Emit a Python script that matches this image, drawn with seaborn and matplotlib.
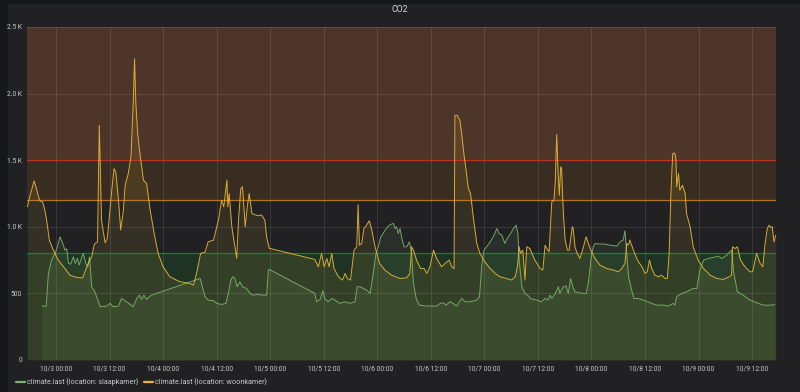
import matplotlib
matplotlib.use("Agg")
import matplotlib.pyplot as plt
from matplotlib.lines import Line2D
from matplotlib.patches import Rectangle
from matplotlib.ticker import FuncFormatter, FixedLocator
import matplotlib.dates as mdates
import seaborn as sns
import pandas as pd

# hours since 10/3 00:00 and CO2 ppm
woon_hours = [-6.4, -6.1, -4.9, -4.5, -3.7, -3.0, -2.5, -2.1, -1.5, -0.6, 0.5, 2.0, 3.1, 4.6, 6.0,
              6.9, 8.0, 8.6, 9.3, 9.7, 10.2, 11.0, 11.5, 12.5, 13.0, 13.4, 14.0, 14.5, 15.1, 15.5,
              16.2, 16.8, 17.3, 17.6, 17.9, 18.3, 18.8, 19.6, 20.3, 21.1, 22.0, 22.9, 24.0, 25.5,
              27.8, 30.0, 30.8, 31.5, 32.4, 33.4, 34.1, 35.3, 36.4, 37.1, 37.6, 38.3, 38.5, 38.8,
              39.4, 40.1, 40.5, 40.9, 41.4, 41.8, 42.4, 42.9, 43.3, 43.9, 45.0, 46.1, 46.8, 47.2,
              47.8, 48.0, 58.0, 58.8, 59.5, 60.1, 60.7, 61.2, 61.8, 62.3, 63.3, 64.2, 64.8, 65.3,
              66.0, 66.8, 67.4, 67.7, 68.0, 68.5, 69.0, 69.6, 70.2, 70.7, 71.5, 72.5, 73.7, 75.2,
              77.1, 78.6, 79.3, 79.7, 80.1, 80.8, 81.7, 82.5, 83.1, 83.8, 84.6, 85.3, 86.4, 87.2,
              88.1, 88.7, 89.2, 89.4, 89.9, 90.5, 90.9, 91.4, 92.0, 92.4, 92.9, 93.5, 94.3, 95.0,
              96.1, 97.3, 98.4, 99.5, 101.0, 102.1, 102.9, 103.4, 103.8, 104.1, 104.6, 105.1,
              105.5, 106.2, 107.3, 108.5, 109.1, 109.6, 110.0, 110.5, 111.1, 111.6, 111.9, 112.2,
              112.5, 112.8, 113.1, 113.3, 113.7, 114.1, 114.6, 115.0, 115.3, 115.7, 115.9, 116.3,
              116.8, 117.4, 118.0, 118.8, 119.3, 120.0, 120.8, 121.9, 123.4, 124.9, 126.0, 126.8,
              127.5, 127.9, 128.3, 128.6, 129.4, 130.3, 131.3, 132.0, 132.5, 133.0, 133.5, 134.2,
              135.0, 135.7, 136.5, 137.0, 137.4, 137.8, 138.2, 138.6, 138.9, 139.1, 139.5, 139.8,
              140.4, 141.0, 141.3, 142.1, 142.8, 143.9, 145.1, 146.6, 148.1, 149.5, 150.9, 151.4,
              151.6, 152.2, 152.7, 153.4, 154.4, 155.5, 156.1, 157.0, 157.8, 158.4, 158.9, 159.4,
              159.8, 160.2, 160.5, 160.9, 161.3]
woon_co2 = [1150, 1200, 1345, 1300, 1200, 1185, 1125, 1050, 900, 825, 750, 687, 637, 620, 617,
            700, 775, 870, 887, 1762, 1050, 880, 912, 1275, 1437, 1410, 1200, 975, 1125, 1312,
            1400, 1525, 1925, 2262, 1925, 1700, 1550, 1350, 1325, 1125, 950, 800, 700, 625,
            587, 575, 562, 650, 800, 810, 887, 900, 1050, 1200, 1150, 1350, 1150, 1250,
            1000, 850, 762, 1050, 1287, 1300, 1000, 1162, 1250, 1100, 1085, 1087, 1050, 925,
            837, 837, 755, 700, 800, 700, 762, 700, 800, 687, 625, 600, 650, 612,
            600, 825, 850, 1167, 862, 875, 987, 1012, 1045, 987, 850, 725, 675, 637,
            612, 617, 650, 850, 825, 750, 687, 687, 650, 700, 825, 762, 700, 725,
            750, 700, 687, 1837, 1837, 1800, 1700, 1550, 1400, 1287, 1250, 1075, 875, 800,
            737, 687, 650, 625, 612, 600, 625, 700, 850, 800, 825, 600,
            850, 837, 750, 687, 675, 862, 837, 812, 1187, 1200, 1350, 1692,
            1425, 1237, 1450, 1440, 1100, 900, 825, 825, 900, 1000, 987, 850,
            800, 762, 825, 925, 875, 812, 762, 712, 687, 675, 662, 687,
            725, 875, 862, 900, 825, 750, 700, 650, 662, 750, 687, 637,
            625, 637, 612, 612, 800, 1250, 1550, 1555, 1525, 1300, 1400, 1275,
            1312, 1250, 1100, 1000, 850, 750, 687, 637, 612, 605, 625, 637,
            850, 837, 850, 750, 700, 662, 662, 800, 725, 700, 875, 987,
            1012, 995, 1000, 887, 937]

slaap_hours = [-3.1, -2.2, -1.7, -1.0, -0.2, 0.3, 0.9, 1.5, 2.0, 2.4, 2.8, 3.3, 3.9, 4.3, 4.8,
               5.2, 5.8, 6.1, 6.7, 7.1, 7.5, 8.0, 8.7, 9.9, 11.4, 12.1, 12.8, 14.0, 14.7, 15.8,
               17.3, 18.1, 18.7, 19.2, 19.7, 20.3, 20.9, 21.4, 32.3, 32.7, 33.4, 34.1, 35.3, 36.0,
               37.1, 38.1, 38.6, 39.2, 39.6, 40.1, 40.6, 41.2, 41.8, 42.7, 43.5, 44.2, 45.0, 46.5,
               47.2, 47.6, 47.8, 58.0, 58.4, 59.2, 59.8, 60.3, 61.0, 61.8, 62.5, 63.6, 64.8, 65.9,
               67.0, 67.5, 68.1, 68.9, 69.6, 70.4, 71.1, 71.7, 72.2, 72.8, 73.3, 74.0, 74.7, 75.2,
               75.6, 76.0, 76.3, 76.7, 77.1, 77.5, 78.0, 78.6, 79.2, 79.7, 80.1, 80.7, 81.4, 83.1,
               85.3, 86.1, 86.8, 87.4, 88.3, 89.0, 89.8, 90.9, 91.7, 92.8, 94.3, 94.9, 95.4, 95.9,
               96.5, 97.3, 98.0, 98.8, 99.3, 99.9, 100.6, 101.1, 101.9, 102.5, 103.1, 103.5, 103.8,
               104.4, 105.1, 106.1, 106.2, 107.7, 108.8, 109.6, 110.3, 110.7, 111.1, 111.8, 112.6,
               112.9, 113.7, 114.3, 114.8, 115.3, 115.8, 116.3, 117.3, 118.2, 118.8, 119.3, 119.7,
               120.0, 120.4, 120.8, 121.9, 123.0, 124.1, 125.7, 126.4, 127.1, 127.5, 127.9, 128.3,
               129.0, 129.5, 130.5, 131.6, 133.1, 134.6, 136.1, 137.2, 138.3, 138.7, 139.1, 140.2,
               141.3, 142.8, 143.6, 144.3, 145.1, 146.2, 147.3, 148.4, 149.2, 150.3, 151.0, 151.4,
               151.9, 152.7, 154.0, 155.5, 157.0, 158.5, 160.0, 161.1]
slaap_co2 = [405, 405, 650, 750, 800, 850, 925, 875, 825, 835, 725, 720, 775, 725, 765,
             712, 775, 800, 725, 700, 775, 550, 512, 400, 405, 425, 400, 405, 462, 437,
             400, 462, 487, 455, 487, 455, 475, 487, 612, 562, 475, 450, 445, 425,
             417, 425, 500, 600, 625, 612, 550, 587, 550, 537, 500, 487, 492, 487,
             487, 675, 680, 500, 437, 455, 520, 457, 437, 462, 450, 425, 437, 425,
             437, 550, 550, 537, 525, 500, 650, 800, 850, 925, 950, 987, 1012, 1020,
             1025, 987, 1000, 950, 987, 912, 850, 850, 887, 800, 575, 462, 412, 405,
             405, 425, 430, 412, 437, 425, 405, 462, 437, 437, 450, 475, 700, 825,
             850, 887, 925, 987, 950, 937, 875, 912, 950, 987, 1012, 950, 750,
             550, 500, 475, 462, 450, 437, 462, 450, 487, 462, 495, 550,
             500, 550, 555, 500, 612, 550, 512, 505, 500, 500, 575, 700,
             787, 850, 875, 870, 870, 862, 855, 887, 900, 970, 800, 625,
             525, 462, 462, 450, 430, 412, 412, 405, 425, 412, 475, 500,
             512, 537, 537, 675, 750, 762, 770, 780, 762, 787, 812, 825,
             650, 512, 487, 450, 430, 412, 412, 415]

labels = ["climate.last {location: slaapkamer}", "climate.last {location: woonkamer}"]
colors = ["#7eb26d", "#eab839"]
thresholds = [800, 1200, 1500]
y_ticks = [0, 500, 1000, 1500, 2000, 2500]

base = pd.Timestamp("2018-10-03")
df = pd.concat([
    pd.DataFrame({"time": base + pd.to_timedelta(slaap_hours, unit="h"),
                  "co2": slaap_co2, "series": labels[0]}),
    pd.DataFrame({"time": base + pd.to_timedelta(woon_hours, unit="h"),
                  "co2": woon_co2, "series": labels[1]}),
], ignore_index=True)

sns.set_theme(style="dark", rc={"axes.facecolor": "#212124", "figure.facecolor": "#161719"})
plt.rcParams["font.family"] = ["Roboto", "DejaVu Sans"]

fig = plt.figure(figsize=(8, 3.92), dpi=100)
fig.patches.append(Rectangle((8 / 800, 0), 1, 1 - 4 / 392, transform=fig.transFigure,
                             facecolor="#212124", edgecolor="none", zorder=-10))
ax = fig.add_axes([27 / 800, 1 - 360 / 392, 749 / 800, 333 / 392])

# threshold bands (grafana style)
ax.axhspan(thresholds[1], 2500, color=(235 / 255, 138 / 255, 14 / 255), alpha=0.12, lw=0, zorder=0)
ax.axhspan(thresholds[2], 2500, color=(234 / 255, 112 / 255, 112 / 255), alpha=0.12, lw=0, zorder=0)
ax.axhspan(0, thresholds[0], color=(11 / 255, 237 / 255, 50 / 255), alpha=0.09, lw=0, zorder=0)
ax.axhline(thresholds[2], color=(237 / 255, 46 / 255, 24 / 255), alpha=0.7, lw=0.9, zorder=3)
ax.axhline(thresholds[1], color=(247 / 255, 149 / 255, 32 / 255), alpha=0.7, lw=0.9, zorder=3)
ax.axhline(thresholds[0], color=(6 / 255, 163 / 255, 69 / 255), alpha=0.7, lw=0.9, zorder=3)

for lab, col in zip(labels, colors):
    sub = df[df["series"] == lab]
    ax.fill_between(sub["time"], 0, sub["co2"], color=col, alpha=0.1, lw=0, zorder=1)

sns.lineplot(data=df, x="time", y="co2", hue="series", palette=dict(zip(labels, colors)),
             linewidth=0.7, alpha=0.9, legend=False, ax=ax, zorder=4)

ax.set_xlim(base - pd.Timedelta(hours=6.5), base + pd.Timedelta(hours=161.35))
ax.set_ylim(0, 2500)
ax.set_xlabel("")
ax.set_ylabel("")

ax.xaxis.set_major_locator(mdates.HourLocator(byhour=[0, 12]))
ax.xaxis.set_major_formatter(FuncFormatter(
    lambda v, p: (lambda d: f"{d.month}/{d.day} {d:%H:%M}")(mdates.num2date(v))))
ax.yaxis.set_major_locator(FixedLocator(y_ticks))
ax.yaxis.set_major_formatter(FuncFormatter(
    lambda v, p: "0" if v == 0 else ("500" if v < 1000 else f"{v / 1000:.1f} K")))

ax.grid(True, color="white", alpha=0.1, lw=0.8)
ax.set_axisbelow(True)
for s in ax.spines.values():
    s.set_visible(False)
ax.tick_params(axis="both", length=0, colors="#c8c9ca", labelsize=4.8)
ax.tick_params(axis="x", pad=3.8)
ax.tick_params(axis="y", pad=3.5)

fig.text(0.5, 1 - 10 / 392, "CO2", ha="center", va="center", color="#d8d9da", fontsize=6.3)

handles = [Line2D([0], [0], color=c, lw=1.6) for c in colors]
fig.legend(handles, labels, loc="center left", bbox_to_anchor=(0.012, 1 - 382 / 392), ncol=2,
           frameon=False, fontsize=5.2, handlelength=1.25, handletextpad=0.25,
           columnspacing=0.8, labelcolor="#c8c9ca")

fig.savefig("out.png", dpi=100, facecolor=fig.get_facecolor())
